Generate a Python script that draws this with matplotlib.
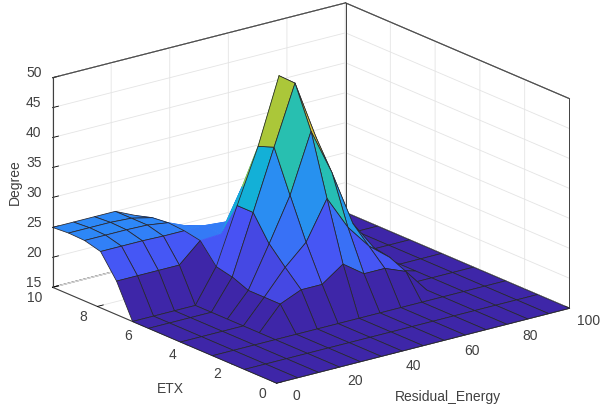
import matplotlib
matplotlib.use('Agg')
import matplotlib.pyplot as plt
import numpy as np
from matplotlib.colors import LinearSegmentedColormap, Normalize
from mpl_toolkits.mplot3d import proj3d
from mpl_toolkits.mplot3d.art3d import Poly3DCollection

plt.rcParams['font.family'] = ['Liberation Sans', 'DejaVu Sans']

residual_energy = np.linspace(0, 100, 15)
etx = np.linspace(0, 10, 15)

# rows follow etx, columns follow residual_energy
degree = np.array([
    [15] * 15,
    [15] * 15,
    [15] * 15,
    [15] * 15,
    [15] * 15,
    [15, 15, 15, 15, 18.9, 20.4, 20.4, 22.9, 20.4, 20.4, 19, 15, 15, 15, 15],
    [15, 15, 15, 15, 18.9, 23, 26.3, 32.7, 27, 23, 20.2, 15, 15, 15, 15],
    [15, 15, 15, 15, 18.9, 25.8, 33, 42.8, 35, 25.6, 20.7, 16, 15, 15, 15],
    [15, 15, 15, 15, 20, 29.9, 39.9, 49.7, 39.8, 27, 19, 15, 15, 15, 15],
    [15, 15, 15, 15, 20.6, 29.9, 38.9, 49.8, 38, 26, 18, 15, 15, 15, 15],
    [20.6, 20.6, 20.6, 20.6, 23.8, 24, 31, 36, 30, 22, 16.5, 15, 15, 15, 15],
    [24.4, 24.4, 24.4, 24.3, 24.3, 24.3, 24, 23, 22, 18, 15, 15, 15, 15, 15],
    [25.1, 25.1, 25.1, 25, 24.5, 23, 22.2, 21.3, 18, 16, 15, 15, 15, 15, 15],
    [25.2, 25.2, 25.2, 25, 24.2, 21.8, 21.1, 20.2, 18.5, 16, 15, 15, 15, 15, 15],
    [25, 25, 25, 25, 23.4, 20.7, 19.8, 18.9, 18.3, 16, 15, 15, 15, 15, 15],
])

x_ticks = [0, 20, 40, 60, 80, 100]
y_ticks = [0, 2, 4, 6, 8, 10]
z_ticks = [15, 20, 25, 30, 35, 40, 45, 50]

parula = LinearSegmentedColormap.from_list('parula', [
    (0.2422, 0.1504, 0.6603), (0.2810, 0.3228, 0.9579), (0.1786, 0.5289, 0.9682),
    (0.0689, 0.6948, 0.8394), (0.2161, 0.7843, 0.5923), (0.6720, 0.7793, 0.2227),
    (0.9970, 0.7659, 0.2199), (0.9769, 0.9839, 0.0805)])
norm = Normalize(15, 50)
MESH = '#26262e'
BOX = '#404040'


def surface_cells():
    # flat stretches of the floor only carry every other mesh line,
    # the back of the peak shows no mesh at all
    verts, colors, edges = [], [], []
    for i in range(len(residual_energy) - 1):
        j = 0
        while j < len(etx) - 1:
            step = 1
            if j % 2 == 0 and j + 2 < len(etx) and np.all(degree[j:j + 3, i:i + 2] == 15):
                step = 2
            x0, x1 = residual_energy[i], residual_energy[i + 1]
            y0, y1 = etx[j], etx[j + step]
            verts.append([(x0, y0, degree[j, i]), (x1, y0, degree[j, i + 1]),
                          (x1, y1, degree[j + step, i + 1]), (x0, y1, degree[j + step, i])])
            color = parula(norm(degree[j, i]))
            colors.append(color)
            edges.append(color if 4 <= i <= 9 and j >= 9 else MESH)
            j += step
    return verts, colors, edges


def tick_label(text, x, y, z, dx, dy, ha):
    # mplot3d can't shift its own tick labels freely, so place them from the projection
    px, py, _ = proj3d.proj_transform(x, y, z, ax.get_proj())
    ax.annotate(text, (px, py), xytext=(dx, dy), textcoords='offset pixels', ha=ha, va='center',
                fontsize=10, color=BOX, annotation_clip=False)


fig = plt.figure(figsize=(6.03, 4.08), dpi=100)
side = 549.6
ax = fig.add_axes([28.8 / 603, -67.2 / 408, side / 603, side / 408],
                  projection='3d', proj_type='ortho')
ax.patch.set_alpha(0)
ax.view_init(elev=19.3, azim=-127.7)
ax.set_box_aspect((371, 367, 222.5))

verts, colors, edges = surface_cells()
ax.add_collection3d(Poly3DCollection(verts, facecolors=colors, edgecolors=edges, linewidths=0.55))

ax.set_xlim(0, 100)
ax.set_ylim(0, 10)
ax.set_zlim(15, 50)
ax.set_xticks(x_ticks)
ax.set_yticks(y_ticks)
ax.set_zticks(z_ticks)
ax.set_xticklabels([])
ax.set_yticklabels([])
ax.set_zticklabels([])

for axis in (ax.xaxis, ax.yaxis, ax.zaxis):
    axis.set_pane_color((1, 1, 1, 1))
    axis.pane.set_edgecolor(BOX)
    axis.pane.set_linewidth(0.8)
    axis.line.set_color(BOX)
    axis.line.set_linewidth(0.8)
    axis._axinfo['grid']['color'] = '#e4e4e4'
    axis._axinfo['grid']['linewidth'] = 0.6
    axis._axinfo['tick']['inward_factor'] = 0
    axis._axinfo['tick']['outward_factor'] = 0.25
    axis._axinfo['tick']['linewidth'] = {True: 0.6, False: 0.6}
    axis._axinfo['tick']['color'] = BOX

for t in x_ticks:
    tick_label(str(t), t, 0, 15, 19.5, -12.5, 'center')
for t in y_ticks:
    tick_label(str(t), 0, t, 15, -10.5, -10.5, 'right')
for t in z_ticks:
    tick_label(str(t), 0, 10, t, -11, 4.5, 'right')

# grid lines would otherwise paint over the back of the box
for xs, ys, zs in (([0, 100], [10, 10], [50, 50]), ([100, 100], [0, 10], [50, 50]),
                   ([0, 0], [10, 10], [15, 50]), ([100, 100], [10, 10], [15, 50]),
                   ([100, 100], [0, 0], [15, 50])):
    ax.plot(xs, ys, zs, color=BOX, lw=0.7)

fig.text(395 / 603, 1 - 397 / 408, 'Residual_Energy', fontsize=10, color=BOX, va='center')
fig.text(157 / 603, 1 - 389 / 408, 'ETX', fontsize=10, color=BOX, va='center')
fig.text(15 / 603, 1 - 182 / 408, 'Degree', fontsize=10, color=BOX, va='center',
         ha='center', rotation=90)

fig.savefig('out.png', dpi=100)
